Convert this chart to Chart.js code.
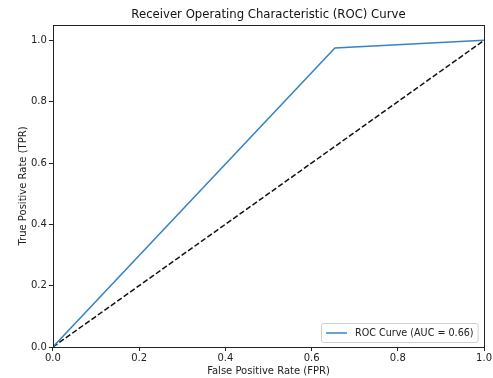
<!DOCTYPE html>
<html>
<head>
<meta charset="utf-8">
<script src="https://cdn.jsdelivr.net/npm/chart.js@4/dist/chart.umd.min.js"></script>
<style>
  html, body { margin: 0; padding: 0; background: #fff; }
  #wrap { width: 493px; height: 378px; }
</style>
</head>
<body>
<div id="wrap"><canvas id="roc" width="493" height="378"></canvas></div>
<script>
// Dados da curva ROC
const fpr = [0, 0.654, 1]
const tpr = [0, 0.975, 1]
const chanceX = [0, 1]
const chanceY = [0, 1]
const tickValues = [0, 0.2, 0.4, 0.6, 0.8, 1.0]
const tickLabels = ["0.0", "0.2", "0.4", "0.6", "0.8", "1.0"]
const rocLabel = "ROC Curve (AUC = 0.66)"
const chartTitle = "Receiver Operating Characteristic (ROC) Curve"

const FONT = "'DejaVu Sans', sans-serif"
const AXIS = "#222"

// Moldura completa e título centrado na área do gráfico
const frame = {
  id: "frame",
  afterDraw(chart) {
    const { ctx, chartArea: a } = chart
    ctx.save()
    ctx.strokeStyle = AXIS
    ctx.lineWidth = 1
    ctx.strokeRect(Math.round(a.left) + 0.5, Math.round(a.top) + 0.5,
      Math.round(a.right - a.left), Math.round(a.bottom - a.top))
    ctx.font = "11.7px " + FONT
    ctx.fillStyle = "#111"
    ctx.textAlign = "center"
    ctx.textBaseline = "middle"
    ctx.fillText(chartTitle, (a.left + a.right) / 2, 15)
    ctx.restore()
  }
}

// Legenda dentro do gráfico, canto inferior direito
const innerLegend = {
  id: "innerLegend",
  afterDraw(chart) {
    const { ctx, chartArea: a } = chart
    const ds = chart.data.datasets[0]
    ctx.save()
    ctx.font = "9.6px " + FONT
    const tw = ctx.measureText(ds.label).width
    const w = tw + 38, h = 19
    const x = Math.round(a.right - 6 - w), y = Math.round(a.bottom - 5 - h)
    ctx.fillStyle = "rgba(255,255,255,0.8)"
    ctx.strokeStyle = "#d0d0d0"
    ctx.lineWidth = 1
    ctx.beginPath()
    ctx.roundRect(x + 0.5, y + 0.5, w, h, 2)
    ctx.fill()
    ctx.stroke()
    ctx.strokeStyle = ds.borderColor
    ctx.lineWidth = 1.5
    ctx.beginPath()
    ctx.moveTo(x + 5, y + h / 2 + 0.5)
    ctx.lineTo(x + 26, y + h / 2 + 0.5)
    ctx.stroke()
    ctx.fillStyle = "#222"
    ctx.textBaseline = "middle"
    ctx.fillText(ds.label, x + 34, y + h / 2 + 1)
    ctx.restore()
  }
}

new Chart(document.getElementById("roc"), {
  type: "line",
  data: {
    datasets: [
      {
        label: rocLabel,
        data: fpr.map((v, i) => ({ x: v, y: tpr[i] })),
        borderColor: "#3584c6",
        borderWidth: 1.5,
        pointRadius: 0,
        tension: 0,
      },
      {
        label: "chance",
        data: chanceX.map((v, i) => ({ x: v, y: chanceY[i] })),
        borderColor: "#111",
        borderWidth: 1.5,
        borderDash: [5.5, 2.4],
        pointRadius: 0,
        tension: 0,
      },
    ],
  },
  options: {
    responsive: false,
    animation: false,
    layout: { padding: { left: 17, right: 7, top: 25, bottom: 1 } },
    scales: {
      x: {
        type: "linear",
        min: 0,
        max: 1,
        afterBuildTicks: (s) => { s.ticks = tickValues.map((v) => ({ value: v })) },
        ticks: {
          color: AXIS,
          font: { family: FONT, size: 10 },
          padding: 1,
          maxRotation: 0,
          callback: (v) => tickLabels[tickValues.findIndex((t) => Math.abs(t - v) < 1e-9)],
        },
        grid: { drawOnChartArea: false, drawTicks: true, tickLength: 4, color: AXIS },
        border: { display: false },
        title: {
          display: true,
          text: "False Positive Rate (FPR)",
          color: AXIS,
          font: { family: FONT, size: 10 },
          padding: { top: 0, bottom: 0 },
        },
      },
      y: {
        type: "linear",
        min: 0,
        max: 1.05,
        afterBuildTicks: (s) => { s.ticks = tickValues.map((v) => ({ value: v })) },
        ticks: {
          color: AXIS,
          font: { family: FONT, size: 10 },
          padding: 2,
          callback: (v) => tickLabels[tickValues.findIndex((t) => Math.abs(t - v) < 1e-9)],
        },
        grid: { drawOnChartArea: false, drawTicks: true, tickLength: 4, color: AXIS },
        border: { display: false },
        title: {
          display: true,
          text: "True Positive Rate (TPR)",
          color: AXIS,
          font: { family: FONT, size: 10 },
          padding: { top: 0, bottom: 0 },
        },
      },
    },
    plugins: {
      legend: { display: false },
      tooltip: { enabled: false },
      title: { display: false },
    },
  },
  plugins: [frame, innerLegend],
})
</script>
</body>
</html>
